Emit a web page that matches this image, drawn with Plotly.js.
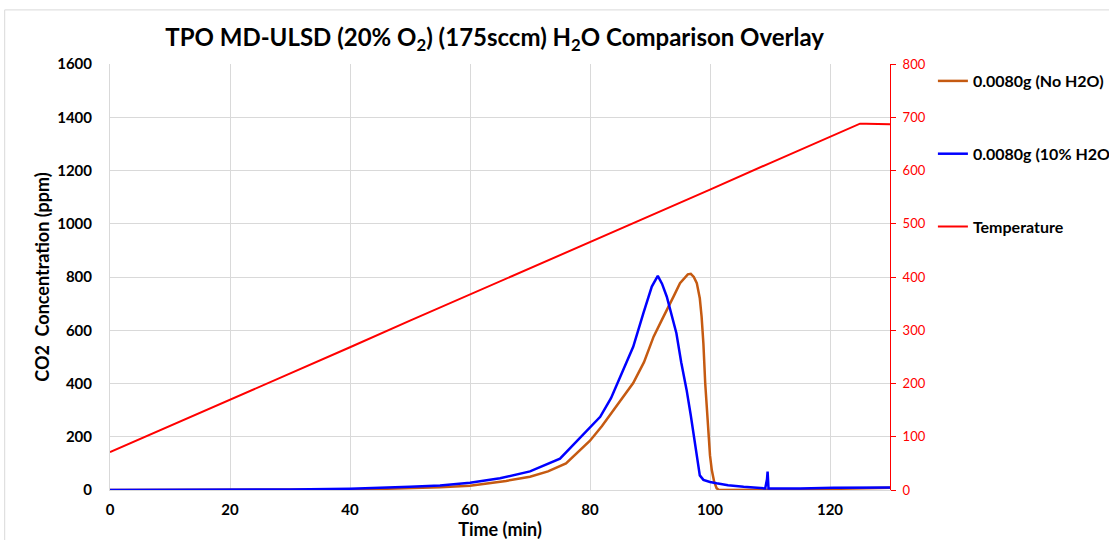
<!DOCTYPE html>
<html>
<head>
<meta charset="utf-8">
<script src="https://cdn.plot.ly/plotly-3.0.1.min.js"></script>
<style>html,body{margin:0;padding:0;background:#fff;}#chart{width:1109px;height:540px;}</style>
</head>
<body>
<div id="chart"></div>
<script>
// Time (min) and CO2 (ppm), no H2O
const timeNoH2O = [0,10,20,30,35,40,45,50,55,60,63,66,70,73,76,78.3,80,82,83.9,85.5,87.2,89,90.6,92,93,94,95,95.8,96.3,96.8,97.3,97.8,98.3,98.6,98.9,99.2,99.5,99.7,100,100.3,100.7,101.1,101.4,102,105,110,115,120,125,130];
const co2NoH2O  = [0,0,0,0,1,2,4,6,10,16,25,34,50,70,100,150,185,240,300,350,402,480,576,640,688,730,777,800,810,812,800,777,720,651,550,402,300,200,130,75,30,7,1,0,0,0,1,4,7,8];

// Time (min) and CO2 (ppm), 10% H2O
const time10H2O = [0,10,20,30,40,45,50,55,60,65,70,75,78.3,80,81.7,83.5,85,87.2,88.9,90.3,91.3,92,92.8,93.6,94.4,95.2,96.1,96.8,97.5,98,98.3,98.9,100,101.1,103,105.6,109.2,109.5,109.6,109.75,110,111.7,115,120.6,125,130];
const co210H2O  = [0,0,1,2,5,8,12,17,27,44,70,118,195,235,275,345,425,538,664,764,804,775,726,660,589,480,376,280,175,95,55,38,30,25,18,12,6,40,69,6,6,5,6,8,9,9];

// Temperature (°C)
const timeTemp = [0,10,20,30,40,50,60,70,80,90,100,110,120,124,125,126,130];
const temperature = [71,120,170,219,268,318,367,416,466,515,564,614,663,683,688,688,687];

const seriesNames = ['0.0080g (No H2O)', '0.0080g (10% H2O)', 'Temperature'];
const seriesColors = ['#C55A11', '#0000FF', '#FF0000'];

const traces = [
  {x: timeNoH2O, y: co2NoH2O, name: seriesNames[0], type: 'scatter', mode: 'lines',
   line: {color: seriesColors[0], width: 2.5}, legendgroup: 'a'},
  {x: time10H2O, y: co210H2O, name: seriesNames[1], type: 'scatter', mode: 'lines',
   line: {color: seriesColors[1], width: 2.5}, legendgroup: 'b'},
  {x: timeTemp, y: temperature, name: seriesNames[2], type: 'scatter', mode: 'lines',
   line: {color: seriesColors[2], width: 2}, yaxis: 'y2', legendgroup: 'c'}
];

const layout = {
  width: 1109, height: 540,
  margin: {l: 110, r: 219, t: 64, b: 50, autoexpand: false},
  paper_bgcolor: '#fff', plot_bgcolor: '#fff',
  font: {family: 'Lato, "Open Sans", sans-serif', color: '#000'},
  title: {text: 'TPO MD-ULSD (20% O<sub>2</sub>) (175sccm) H<sub>2</sub>O Comparison Overlay',
          font: {size: 24, family: 'Lato, sans-serif', weight: 'bold', color: '#000'},
          x: 0.446, xanchor: 'center', y: 0.93, yanchor: 'middle'},
  xaxis: {range: [0, 130], tickvals: [0,20,40,60,80,100,120], showgrid: true, gridcolor: '#D9D9D9',
          zeroline: false, showline: true, linecolor: '#D9D9D9', ticks: '', automargin: false,
          ticklabelstandoff: 6,
          tickfont: {size: 15, weight: 'bold', color: '#000'},
          title: {text: 'Time (min)', font: {size: 18, weight: 'bold', color: '#000'}, standoff: 6}},
  yaxis: {range: [0, 1600], dtick: 200, showgrid: true, gridcolor: '#D9D9D9', zeroline: false,
          showline: true, linecolor: '#D9D9D9', ticks: '', ticklabelstandoff: 14, automargin: false,
          tickfont: {size: 15, weight: 'bold', color: '#000'},
          title: {text: 'CO2  Concentration (ppm)', font: {size: 18, weight: 'bold', color: '#000'}, standoff: 2}},
  yaxis2: {range: [0, 800], dtick: 100, overlaying: 'y', side: 'right', showgrid: false, zeroline: false,
           showline: true, linecolor: '#FF0000', linewidth: 1, ticks: 'outside', ticklen: 5, tickcolor: '#FF0000',
           automargin: false, ticklabelstandoff: 4,
           tickfont: {size: 13, color: '#FF0000'}},
  showlegend: true,
  legend: {x: 1.055, xanchor: 'left', y: 1.0, yanchor: 'top', tracegroupgap: 49,
           font: {size: 16, weight: 'bold', color: '#000'}, bgcolor: 'rgba(0,0,0,0)', itemwidth: 30},
  shapes: [
    {type: 'line', xref: 'paper', yref: 'paper', x0: -0.135, x1: 1.3, y0: 1.127, y1: 1.127,
     line: {color: '#D9D9D9', width: 1}},
    {type: 'line', xref: 'paper', yref: 'paper', x0: -0.135, x1: -0.135, y0: -0.2, y1: 1.127,
     line: {color: '#D9D9D9', width: 1}}
  ]
};

Plotly.newPlot('chart', traces, layout, {displayModeBar: false, staticPlot: true});
</script>
</body>
</html>
